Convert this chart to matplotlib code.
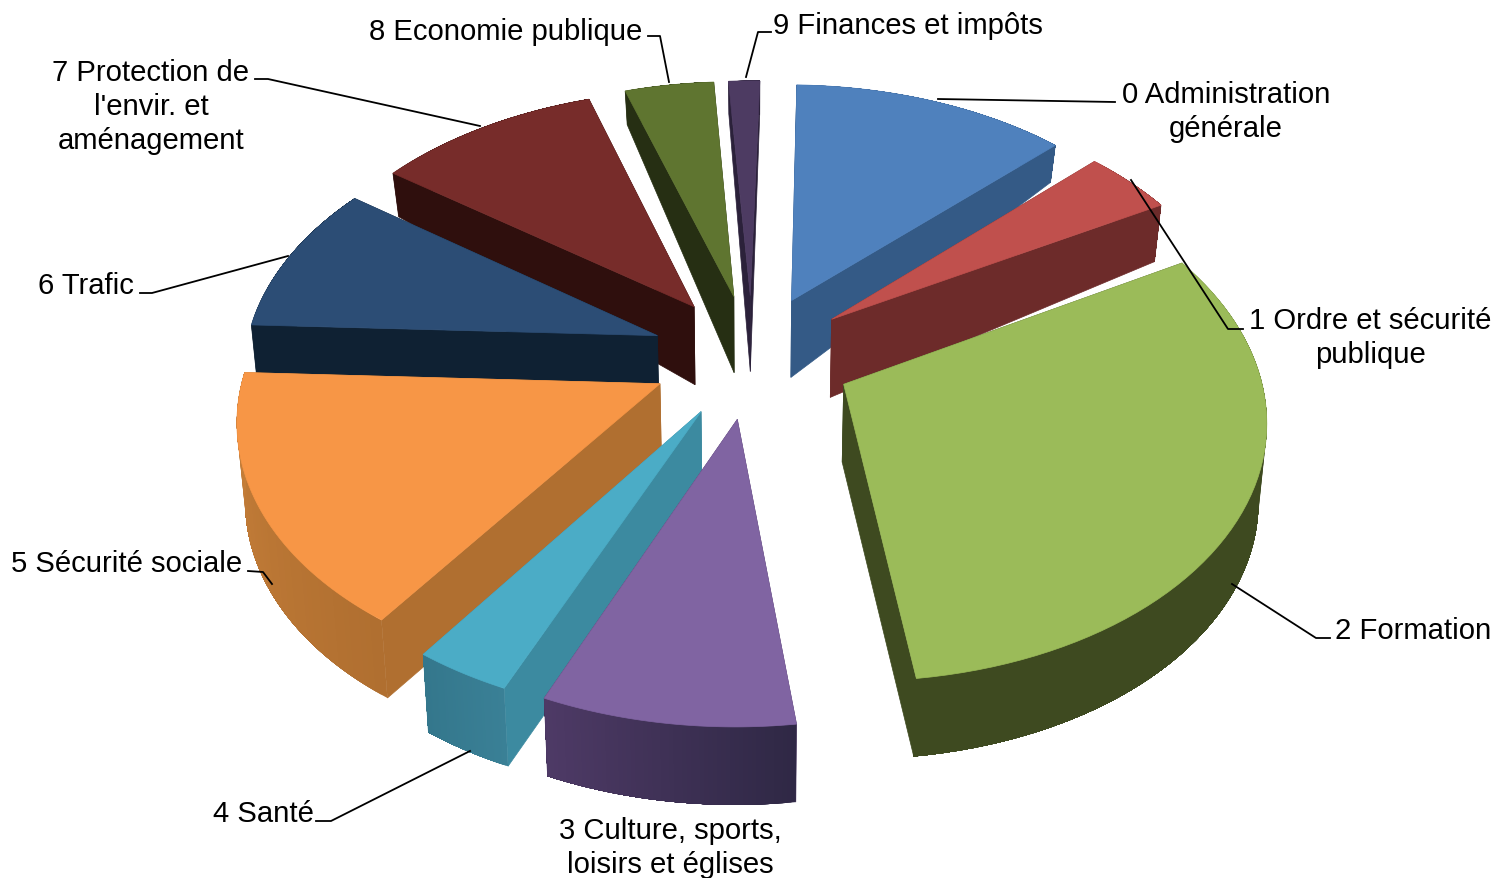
import numpy as np
import matplotlib
matplotlib.use("Agg")
import matplotlib.pyplot as plt
from matplotlib.patches import Polygon

plt.rcParams['font.family'] = ['Liberation Sans', 'DejaVu Sans']

labels = ["0 Administration\ngénérale", "1 Ordre et sécurité\npublique", "2 Formation",
          "3 Culture, sports,\nloisirs et églises", "4 Santé", "5 Sécurité sociale",
          "6 Trafic", "7 Protection de\nl'envir. et\naménagement", "8 Economie publique",
          "9 Finances et impôts"]
values = [12.4, 4.1, 31.4, 8.6, 3.3, 16.0, 9.4, 10.1, 4.0, 1.4]

top_colors = ["#4f81bd", "#c0504d", "#9bbb59", "#8064a2", "#4bacc6", "#f79646", "#2c4d75", "#772c2a", "#5f7530", "#4d3b62"]
cut_colors = ["#345a86", "#6d2b2a", "#3e4a20", "#4a3560", "#3c8aa0", "#b06f30", "#0f2133", "#2f0f0d", "#262f13", "#2b213a"]
rim_start = ["#345a86", "#6d2b2a", "#3e4a20", "#2f2845", "#3a8096", "#b06f30", "#0f2133", "#2f0f0d", "#262f13", "#2b213a"]
rim_end = ["#345a86", "#6d2b2a", "#3e4a20", "#4e3a66", "#34778c", "#c8803a", "#0f2133", "#2f0f0d", "#262f13", "#2b213a"]

# projection layout (pixels)
CX, CY, A, B, K, E = 752, 357, 413, 254, 0.12, 0.245
FIRST_ANGLE = np.deg2rad(1.5)

def depth(y):
    return np.interp(y, [-1.5, 0.2, 0.6, 0.85, 1.5], [78, 78, 60, 38, 30])

def project(x, y, z):
    s = 1 / (1 + K * y)
    sx = CX + A * x * s
    sy = CY - B * y * s + depth(y) * z
    sx = CX + (sx - CX) * (1 - 0.016 * z)
    return np.column_stack([sx, sy])

def hex2rgb(c):
    return np.array(matplotlib.colors.to_rgb(c))

fig = plt.figure(figsize=(14.95, 8.79), dpi=100)
ax = fig.add_axes([0, 0, 1, 1])
ax.set_xlim(0, 1495)
ax.set_ylim(879, 0)
ax.axis('off')

fr = np.array(values) / np.sum(values) * 2 * np.pi
ends = np.cumsum(fr) + FIRST_ANGLE
starts = ends - fr
mids = (starts + ends) / 2

order = list(np.argsort(-np.cos(mids)))
for i in order:
    z0 = 2 + order.index(i) * 0.1
    ox, oy = E * np.sin(mids[i]), E * np.cos(mids[i])
    th = np.linspace(starts[i], ends[i], 60)
    xs, ys = ox + np.sin(th), oy + np.cos(th)
    top = project(xs, ys, 0)
    bot = project(xs, ys, 1)
    ap_t = project(np.array([ox]), np.array([oy]), 0)
    ap_b = project(np.array([ox]), np.array([oy]), 1)
    for edge_t, edge_b in ((top[0], bot[0]), (top[-1], bot[-1])):
        ax.add_patch(Polygon([ap_t[0], edge_t, edge_b, ap_b[0]], fc=cut_colors[i], ec=cut_colors[i], lw=0.5, zorder=z0))
    c0, c1 = hex2rgb(rim_start[i]), hex2rgb(rim_end[i])
    # painted from the first band onward: each band covers the rest of the rim, so no seams show
    for j in range(len(th) - 1):
        f = j / (len(th) - 2)
        col = c0 * (1 - f) + c1 * f
        ax.add_patch(Polygon(np.vstack([top[j:], bot[j:][::-1]]), fc=col, ec='none', zorder=z0 + 0.001 * j / len(th)))
    ax.add_patch(Polygon(np.vstack([ap_t, top]), fc=top_colors[i], ec=top_colors[i], lw=0.5, zorder=z0 + 0.01))

label_pos = [(1226, 112), (1370, 338), (1413, 631), (670, 848), (263, 814), (127, 564),
             (86, 286), (151, 107), (506, 32), (908, 26)]
leaders = [[(1115, 103), (938, 100)],
           [(1243, 330), (1228, 330), (1131, 181)],
           [(1330, 639), (1316, 639), (1232, 585)],
           [],
           [(316, 822), (331, 822), (470, 752)],
           [(248, 572), (263, 573), (272, 585)],
           [(140, 294), (152, 294), (288, 257)],
           [(255, 80), (268, 80), (480, 127)],
           [(648, 37), (660, 37), (669, 83)],
           [(771, 33), (758, 33), (746, 78)]]
for lab, (x, y), ld in zip(labels, label_pos, leaders):
    ax.text(x, y, lab, fontsize=21.1, color='black', ha='center', va='center', linespacing=1.27, zorder=6)
    if ld:
        ax.plot(*zip(*ld), color='black', lw=1.3, zorder=5)

fig.savefig('out.png', dpi=100)
